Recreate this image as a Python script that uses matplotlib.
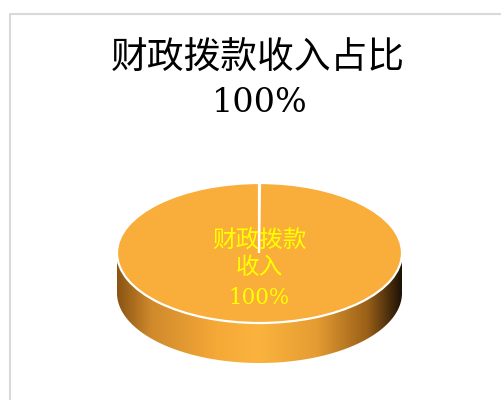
import numpy as np
import matplotlib
matplotlib.use('Agg')
import matplotlib.pyplot as plt
from matplotlib.colors import LinearSegmentedColormap
from matplotlib.patches import Polygon
from matplotlib.lines import Line2D

plt.rcParams['font.family'] = ['Noto Sans CJK SC', 'DejaVu Sans']

title = '财政拨款收入占比'
labels = ['财政拨款\n收入']
values = [100.0]

top_color = '#F9AD3A'
side_cmap = LinearSegmentedColormap.from_list(
    'side', [(0.0, '#8A5414'), (0.12, '#D08A2C'), (0.35, '#F5A937'),
             (0.5, '#FBB33E'), (0.7, '#E59C32'), (0.88, '#9A6018'),
             (1.0, '#1E1205')])

# pie geometry in pixels (center, semi axes, side depth)
cx, cy, a, b, depth = 259.5, 253.0, 142.5, 70.0, 40.0
d = depth / b

fig = plt.figure(figsize=(5.02, 4.0), dpi=100)
ax = fig.add_axes([0, 0, 1, 1])

# side of the cylinder, with a horizontal gradient
t = np.linspace(np.pi, 2 * np.pi, 300)
xs = np.concatenate([np.cos(t), np.cos(t[::-1])])
ys = np.concatenate([np.sin(t), np.sin(t[::-1]) - d])
side = Polygon(np.column_stack([xs, ys]), closed=True, fill=False,
               edgecolor='none')
ax.add_patch(side)
grad = np.linspace(0, 1, 256).reshape(1, -1)
im = ax.imshow(grad, cmap=side_cmap, extent=(-1, 1, -1 - d, 0),
               aspect='auto', zorder=0, interpolation='bilinear')
im.set_clip_path(side)

# top face
wedges, _ = ax.pie(values, startangle=90, counterclock=False,
                   colors=[top_color], radius=1.0,
                   wedgeprops=dict(edgecolor='white', linewidth=1.6))

# slice borders (radius lines)
for w in wedges:
    for ang in (w.theta1, w.theta2):
        r_ang = np.deg2rad(ang)
        ax.plot([0, np.cos(r_ang)], [0, np.sin(r_ang)], color='white',
                lw=1.6, zorder=3, solid_capstyle='butt')

total = sum(values)
for w, lab, v in zip(wedges, labels, values):
    mid = np.deg2rad((w.theta1 + w.theta2) / 2.0)
    r = 0.23
    x, y = r * np.cos(mid), r * np.sin(mid)
    ax.text(x, y + 0.22, lab, ha='center', va='center', fontsize=17,
            color='#FFFF00', linespacing=1.2, zorder=5)
    ax.text(x, y - 0.41, '%.0f%%' % (v / total * 100), ha='center',
            va='center', fontsize=15.5, color='#FFFF00',
            family=['DejaVu Serif'], zorder=5)

ax.set_aspect('auto')
ax.set_xlim(-cx / a, (502 - cx) / a)
ax.set_ylim((cy - 400) / b, cy / b)
ax.axis('off')

# chart title
fig.text(257.5 / 502, 1 - 57 / 400, title, ha='center', va='center',
         fontsize=26.5)
fig.text(260 / 502, 1 - 103 / 400, '%.0f%%' % (values[0] / total * 100),
         ha='center', va='center', fontsize=24, family=['DejaVu Serif'])

# chart area border (only top and left visible)
fig.add_artist(Line2D([9.5 / 502, 9.5 / 502, 1], [0, 1 - 14 / 400, 1 - 14 / 400],
                      transform=fig.transFigure, color='#D9D9D9', lw=1.5))

fig.savefig('out.png', dpi=100)
